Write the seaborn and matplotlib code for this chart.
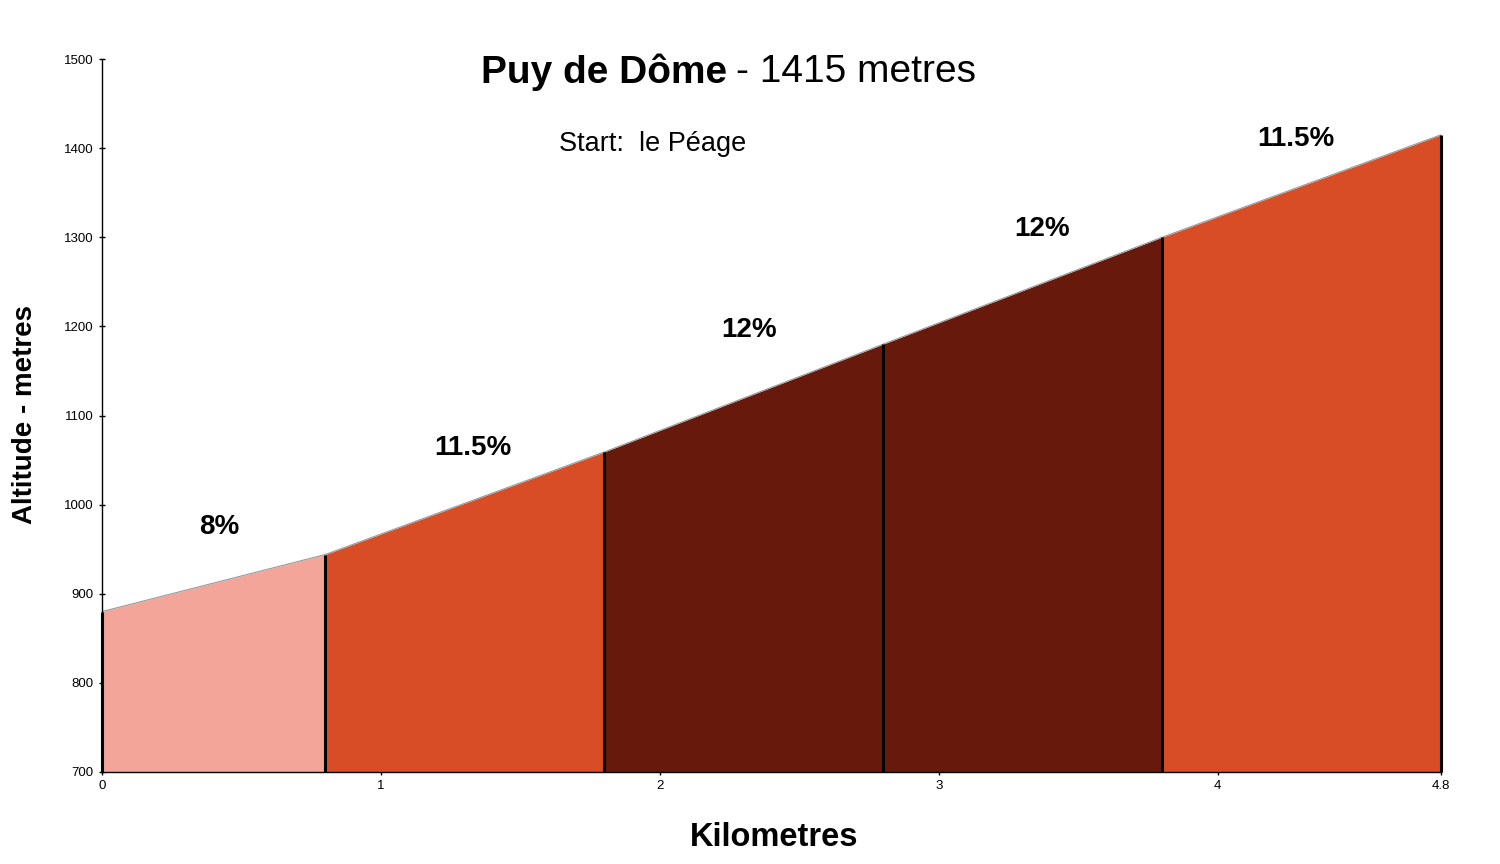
import matplotlib
matplotlib.use("Agg")
import matplotlib.pyplot as plt
import seaborn as sns
import pandas as pd

# Data
km = [0.0, 0.8, 1.8, 2.8, 3.8, 4.8]
altitude = [880, 944, 1059, 1180, 1300, 1415]
gradients = ["8%", "11.5%", "12%", "12%", "11.5%"]
seg_colors = ["#F2A598", "#D94D26", "#671A0C", "#671A0C", "#D94D26"]
label_x = [0.42, 1.33, 2.32, 3.37, 4.28]
label_y = [975, 1063, 1196, 1309, 1410]
xticks = [0, 1, 2, 3, 4, 4.8]
xtick_labels = ["0", "1", "2", "3", "4", "4.8"]
yticks = [700, 800, 900, 1000, 1100, 1200, 1300, 1400, 1500]

sns.set_style("ticks")
plt.rcParams['font.family'] = ['Liberation Sans', 'DejaVu Sans']
plt.rcParams['text.color'] = 'black'

fig = plt.figure(figsize=(15, 8.64), dpi=100)
ax = fig.add_axes([102/1500, 1 - 772/864, (1441-102)/1500, (772-59)/864])

df = pd.DataFrame({"km": km, "alt": altitude})
for i in range(len(km) - 1):
    ax.fill_between(km[i:i+2], altitude[i:i+2], 700, color=seg_colors[i], linewidth=0, zorder=1)
sns.lineplot(data=df, x="km", y="alt", ax=ax, color="#999999", linewidth=0.8, zorder=2)
ax.vlines(km, 700, altitude, color="black", linewidth=2.2, zorder=3, clip_on=False)

for lx, ly, g in zip(label_x, label_y, gradients):
    ax.text(lx, ly, g, ha="center", va="center", fontsize=20, fontweight="bold", color="black")

ax.set_xlim(0, 4.8)
ax.set_ylim(700, 1500)
ax.set_xticks(xticks)
ax.set_xticklabels(xtick_labels)
ax.set_yticks(yticks)
ax.tick_params(axis="both", labelsize=9.5, length=4, width=1, direction="inout", colors="black", pad=4)
for s in ["top", "right"]:
    ax.spines[s].set_visible(False)
for s in ["left", "bottom"]:
    ax.spines[s].set_color("black")
    ax.spines[s].set_linewidth(1)

ax.set_xlabel("")
ax.set_ylabel("")
fig.text(774/1500, 1 - 838/864, "Kilometres", ha="center", va="center", fontsize=23.5, fontweight="bold", color="black")
fig.text(25/1500, 1 - 415/864, "Altitude - metres", ha="center", va="center", rotation=90, fontsize=20, fontweight="bold", color="black")

fig.text(727/1500, 1 - 72/864, "Puy de Dôme", ha="right", va="center", fontsize=28, fontweight="bold", color="black")
fig.text(736/1500, 1 - 72/864, "- 1415 metres", ha="left", va="center", fontsize=28, color="black")
fig.text(653/1500, 1 - 144/864, "Start:  le Péage", ha="center", va="center", fontsize=19.5, color="black")

fig.savefig("out.png", dpi=100)
